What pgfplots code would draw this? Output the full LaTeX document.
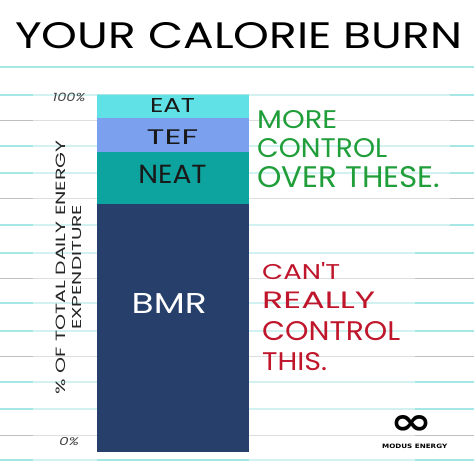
\documentclass[border=0pt]{standalone}
\usepackage{pgfplots}
\pgfplotsset{compat=1.18}
\usepackage{fontspec}
\setmainfont{Poppins}
\newfontfamily\hand{Poppins}
\newfontfamily\sym{DejaVu Sans}
\definecolor{eatc}{HTML}{5FE1E5}
\definecolor{tefc}{HTML}{7BA1EE}
\definecolor{neatc}{HTML}{0DA39E}
\definecolor{bmrc}{HTML}{263F6B}
\definecolor{greent}{HTML}{1F9E3A}
\definecolor{redt}{HTML}{C0162C}
\definecolor{linecyan}{HTML}{A6E6E4}
\definecolor{linegray}{HTML}{BEBEBE}
\definecolor{tickt}{HTML}{444444}
\tikzset{lc/.style={draw=linecyan,line width=1.7bp},lg/.style={draw=linegray,line width=1bp}}
\newcommand{\fit}[3]{\resizebox{#1bp}{#2bp}{\hand #3}}
\begin{document}
\begin{tikzpicture}
\begin{scope}[x=1bp,y=-1bp]
\useasboundingbox (0,0) rectangle (474,474);
\fill[white] (0,0) rectangle (474,474);
\foreach \yy/\cc in {67/lc,95/lc,120.7/lg,145.7/lc,173.3/lc,199/lg,225/lc,252.7/lc,278/lg,303.3/lc,330.7/lc,356.7/lg,382.3/lc,409.3/lc,435.3/lg,460/lc}
  \draw[\cc] (0,\yy) -- (474,\yy);
\fill[white,opacity=0.5] (33,85) rectangle (97,468);
\fill[white,opacity=0.5] (249,85) rectangle (450,232);
\fill[white,opacity=0.5] (249,232) rectangle (415,468);
\end{scope}
\begin{axis}[at={(97bp,-451.7bp)}, anchor=south west, scale only axis,
  width=152bp, height=356.7bp,
  xmin=-0.5, xmax=0.5, ymin=0, ymax=100,
  ybar stacked, bar width=152bp,
  axis line style={draw=none}, tick style={draw=none},
  xtick=\empty, ytick={2.9,99.3},
  yticklabels={{\resizebox{20bp}{8bp}{\hand\itshape 0\%}},{\resizebox{32.6bp}{8.4bp}{\hand\itshape 100\%}}},
  yticklabel style={anchor=center, xshift=-28bp, inner sep=0, text=tickt},
  ylabel={\resizebox{254bp}{9.5bp}{\hand \% OF TOTAL DAILY ENERGY}\\\resizebox{125bp}{9bp}{\hand EXPENDITURE}},
  ylabel style={at={(rel axis cs:-0.1875,0.517)}, anchor=center, align=center, font=\fontsize{9}{16}\selectfont, inner sep=0, text=black!85},
  clip=false]
\addplot[fill=bmrc, draw=none] coordinates {(0,69.4)};
\addplot[fill=neatc, draw=none] coordinates {(0,14.6)};
\addplot[fill=tefc, draw=none] coordinates {(0,9.5)};
\addplot[fill=eatc, draw=none] coordinates {(0,6.5)};
\end{axis}
\begin{scope}[x=1bp,y=-1bp]
\node[inner sep=0, text=black!90] at (172.5,105.3) {\fit{45}{14}{EAT}};
\node[inner sep=0, text=black!90] at (172.5,136.7) {\fit{51.6}{14.7}{TEF}};
\node[inner sep=0, text=black!90] at (172.5,174.2) {\fit{68.4}{18.3}{NEAT}};
\node[inner sep=0, text=white] at (169.2,303.3) {\fit{75}{20}{BMR}};
\node[anchor=north west,inner sep=0] at (15,22) {\fit{447}{26}{YOUR CALORIE BURN}};
\begin{scope}[every node/.style={anchor=north west,inner sep=0,text=greent}]
\node at (257,110) {\fit{80}{18}{MORE}};
\node at (257,138) {\fit{130}{19}{CONTROL}};
\node at (257,166) {\fit{183}{21}{OVER THESE.}};
\end{scope}
\begin{scope}[every node/.style={anchor=north west,inner sep=0,text=redt}]
\node at (262,262) {\fit{78}{17}{CAN'T}};
\node at (262,292) {\fit{113}{16.5}{REALLY}};
\node at (262,321) {\fit{138}{19}{CONTROL}};
\node at (262,352) {\fit{65}{18}{THIS.}};
\end{scope}
\node[inner sep=0] at (411,424.5) {\resizebox*{42bp}{19bp}{\sym\bfseries ∞}};
\node[anchor=north west,inner sep=0] at (382,443.5) {\resizebox*{65bp}{4.5bp}{\sym\bfseries MODUS ENERGY}};
\end{scope}
\end{tikzpicture}
\end{document}
